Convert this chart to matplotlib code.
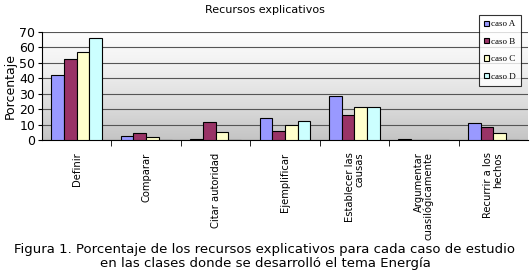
import matplotlib.pyplot as plt
import numpy as np

categorias = ["Definir", "Comparar", "Citar autoridad", "Ejemplificar",
              "Establecer las\ncausas", "Argumentar\ncuasilógicamente",
              "Recurrir a los\nhechos"]
caso_a = [42, 2.6, 0.9, 14.3, 28.7, 0.9, 11.2]
caso_b = [52.3, 4.7, 11.4, 5.6, 16.4, 0, 8.6]
caso_c = [57.2, 2, 5.2, 9.5, 21.6, 0, 4.7]
caso_d = [65.9, 0, 0, 12.5, 21.6, 0, 0]
series = [("caso A", caso_a, "#9999FF"), ("caso B", caso_b, "#993366"),
          ("caso C", caso_c, "#FFFFCC"), ("caso D", caso_d, "#CCFFFF")]

fig = plt.figure(figsize=(5.32, 2.79), dpi=100)
ax = fig.add_axes([42 / 532, 1 - 140 / 279, 486 / 532, 108 / 279])

# gradient background
grad = np.linspace(0, 1, 256).reshape(-1, 1)
ax.imshow(grad, extent=[-0.5, 6.5, 0, 70], aspect="auto", cmap="Greys",
          vmin=-0.05, vmax=3.0, origin="upper", zorder=0)

x = np.arange(len(categorias))
w = 0.183
for i, (name, vals, col) in enumerate(series):
    ax.bar(x + (i - 1.5) * w, vals, w, color=col, edgecolor="black",
           linewidth=0.8, label=name, zorder=3)

ax.set_xlim(-0.5, 6.5)
ax.set_ylim(0, 70)
ax.set_yticks(range(0, 71, 10))
ax.grid(axis="y", color="#555555", linewidth=0.8, zorder=1)
ax.set_axisbelow(True)
for s in ["top", "right"]:
    ax.spines[s].set_visible(False)

ax.set_xticks(x)
ax.set_xticklabels([])
ax.tick_params(axis="x", which="major", length=0)
ax.set_xticks(np.arange(0.5, 6.5, 1), minor=True)
ax.tick_params(axis="x", which="minor", length=4, direction="out")
ax.tick_params(axis="y", labelsize=9, length=3, pad=2)
ax.set_ylabel("Porcentaje", fontsize=9, labelpad=2)

# category labels, rotated, top-aligned just below the axis
for xi, lab in zip(x, categorias):
    ax.annotate(lab, xy=(xi, 0), xycoords="data", xytext=(0, -9),
                textcoords="offset points", rotation=90, fontsize=7.2,
                ha="center", va="top", multialignment="right",
                linespacing=0.95, annotation_clip=False)

fig.text(265 / 532, 1 - 10 / 279, "Recursos explicativos", ha="center",
         va="center", fontsize=8)

leg = ax.legend(loc="upper left", bbox_to_anchor=(479 / 532, 1 - 15 / 279),
                bbox_transform=fig.transFigure,
                prop={"family": "Liberation Serif", "size": 6.5},
                frameon=True, fancybox=False, edgecolor="black",
                handlelength=0.55, handleheight=0.55, handletextpad=0.2,
                labelspacing=1.05, borderpad=0.6, borderaxespad=0)
leg.get_frame().set_linewidth(0.8)

fig.text(265 / 532, 1 - 250 / 279,
         "Figura 1. Porcentaje de los recursos explicativos para cada caso de estudio",
         ha="center", va="center", fontsize=9.5)
fig.text(265 / 532, 1 - 263 / 279,
         "en las clases donde se desarrolló el tema Energía",
         ha="center", va="center", fontsize=9.5)

fig.savefig("out.png", dpi=100)
